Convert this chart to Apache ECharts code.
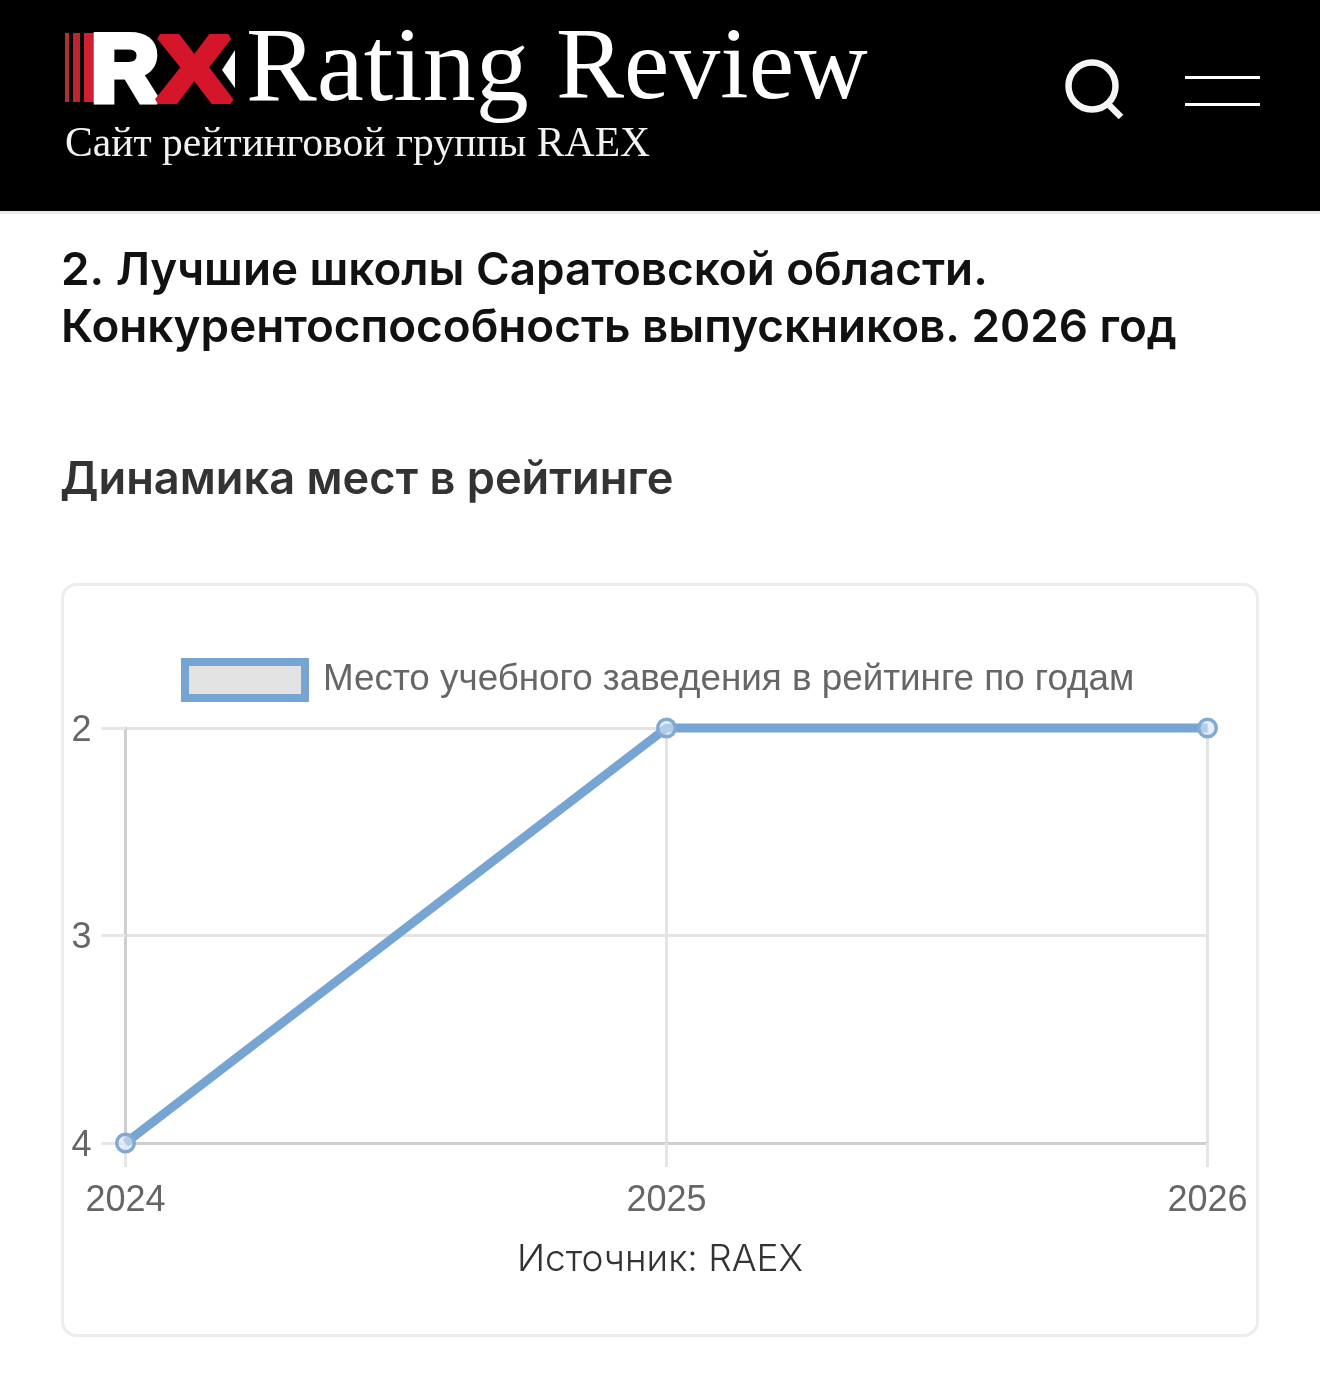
<!DOCTYPE html>
<html><head><meta charset="utf-8">
<style>html,body{margin:0;padding:0;background:#fff}#c{width:1320px;height:1384px}</style>
<script src="https://cdn.jsdelivr.net/npm/echarts@6/dist/echarts.min.js"></script>
</head><body><div id="c"></div>
<script>
const years = ['2024','2025','2026'];
const ranks = [4,2,2];
const seriesName = 'Место учебного заведения в рейтинге по годам';
const siteName = ['Rating','Review'];
const siteSub = 'Сайт рейтинговой группы RAEX';
const titleLines = ['2. Лучшие школы Саратовской области.','Конкурентоспособность выпускников. 2026 год'];
const subTitle = 'Динамика мест в рейтинге';
const source = 'Источник: RAEX';
const BLUE = '#76a5d4';
const chart = echarts.init(document.getElementById('c'));
const txt = (x,y,text,font,size,fill,weight,extra)=>Object.assign({type:'text',x,y,silent:true,
  style:Object.assign({text,fontFamily:font,fontSize:size,fill,fontWeight:weight||'normal'},(extra&&extra.s)||{})},(extra&&extra.e)||{});
const rect=(x,y,w,h,fill,extra)=>Object.assign({type:'rect',silent:true,shape:{x,y,width:w,height:h},style:{fill}},extra||{});
chart.setOption({
  animation:false,
  backgroundColor:'#fff',
  grid:{left:125.5,right:112.5,top:728,bottom:241,containLabel:false},
  legend:{show:true,left:176,top:653,icon:'rect',itemWidth:120,itemHeight:36,
    data:[{name:seriesName,icon:'rect',itemStyle:{color:'#e3e3e3',borderColor:BLUE,borderWidth:8}}],
    textStyle:{fontFamily:'Liberation Sans',fontSize:36.8,color:'#666',padding:[4,0,0,13]},selectedMode:false},
  xAxis:{type:'category',data:years,boundaryGap:false,
    axisLine:{show:true,lineStyle:{color:'#cfcfcf',width:3}},
    axisTick:{show:true,alignWithLabel:true,length:24,lineStyle:{color:'#e6e6e6',width:3}},
    axisLabel:{fontFamily:'Liberation Sans',fontSize:36,color:'#666',margin:40,interval:0},
    splitLine:{show:true,lineStyle:{color:'#e4e4e4',width:3}}},
  yAxis:{type:'value',inverse:true,min:2,max:4,interval:1,
    axisLine:{show:true,lineStyle:{color:'#cfcfcf',width:3}},
    axisTick:{show:true,length:24,lineStyle:{color:'#e6e6e6',width:3}},
    axisLabel:{margin:34,formatter:'{a|{value}}',rich:{a:{fontFamily:'Liberation Sans',fontSize:36,color:'#666',padding:[6,0,0,0]}}},
    splitLine:{show:true,lineStyle:{color:'#e4e4e4',width:3}}},
  series:[{name:seriesName,type:'line',data:ranks,clip:false,symbol:'circle',symbolSize:17.5,showSymbol:true,
    lineStyle:{color:BLUE,width:9},
    itemStyle:{color:'rgba(215,230,246,0.6)',borderColor:'#82a9d2',borderWidth:3.5,opacity:1}}],
  graphic:{elements:[
    rect(0,0,1320,211,'#000',{z:-5}),
    rect(0,211,1320,3,'#ececec',{z:-5}),
    {type:'rect',silent:true,z:-5,shape:{x:62.5,y:584.5,width:1195,height:751,r:14},style:{fill:'#fff',stroke:'#ececec',lineWidth:3}},
    rect(65,33,4,69,'#b03030'),rect(73,33,7,69,'#c0252f'),rect(84,33,10,69,'#d01f2f'),
    txt(91,28,'R','Liberation Sans',94,'#fff','bold',{s:{stroke:'#fff',lineWidth:7}}),
    txt(157,29,'X','Liberation Sans',93,'#d5152a','bold',{s:{stroke:'#d5152a',lineWidth:6},e:{scaleX:1.2}}),
    {type:'polygon',silent:true,shape:{points:[[235,50],[222,70],[235,88]]},style:{fill:'#fff'}},
    txt(246,19,siteName[0],'Liberation Serif',106,'#fff'),
    txt(556,20,siteName[1],'Liberation Serif',102,'#fff'),
    txt(65,124,siteSub,'Liberation Serif',41.6,'#f2f2f2'),
    {type:'circle',silent:true,shape:{cx:1092,cy:86,r:23.5},style:{fill:'none',stroke:'#f5f5f5',lineWidth:6.5}},
    {type:'line',silent:true,shape:{x1:1108,y1:104,x2:1121,y2:117},style:{stroke:'#f5f5f5',lineWidth:6.5}},
    rect(1185,76,75,3,'#fff'),rect(1185,103,75,3,'#fff'),
    txt(61,248,titleLines[0],'Inter',45.8,'#111','600'),
    txt(61,305,titleLines[1],'Inter',45.8,'#111','600'),
    txt(60,458,subTitle,'Inter',45.2,'#333','600'),
    {type:'text',x:660,y:1241,silent:true,style:{text:source,fontFamily:'Inter',fontSize:37,fontWeight:300,fill:'#333',textAlign:'center'}}
  ]}
});
</script></body></html>
